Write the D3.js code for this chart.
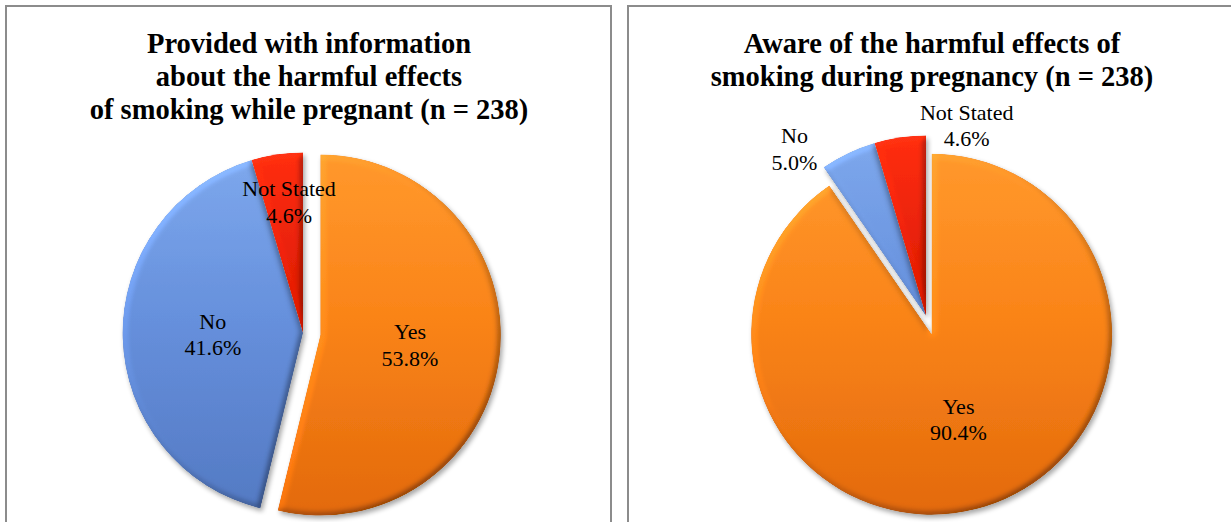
<!DOCTYPE html>
<html>
<head>
<meta charset="utf-8">
<script src="https://cdnjs.cloudflare.com/ajax/libs/d3/7.8.5/d3.min.js"></script>
<style>
  body { margin: 0; background: #fff; font-family: "Liberation Serif", serif; }
  svg { display: block; }
  .panel { fill: #fff; stroke: #8c8c8c; stroke-width: 2; }
  .title { font-weight: bold; font-size: 28.5px; fill: #000; text-anchor: middle; }
  .label { font-size: 22px; fill: #000; text-anchor: middle; }
</style>
</head>
<body>
<div id="chart"></div>
<script>
// Provided with information about harmful effects (n = 238)
var infoCategories = ["Yes", "No", "Not Stated"];
var infoValues = [53.8, 41.6, 4.6];
var infoTitle = ["Provided with information", "about the harmful effects", "of smoking while pregnant (n = 238)"];

// Aware of the harmful effects (n = 238)
var awareCategories = ["Yes", "No", "Not Stated"];
var awareValues = [90.4, 5.0, 4.6];
var awareTitle = ["Aware of the harmful effects of", "smoking during pregnancy (n = 238)"];

var W = 1231, H = 522;

// slice shading: light at top, darker at the bottom
var sliceColors = {
  "Yes":        ["#ff982c", "#f98418", "#e2690c"],
  "No":         ["#7ea8ec", "#6690dc", "#5379c2"],
  "Not Stated": ["#ff2e10", "#da1902", "#b00e00"]
};

var svg = d3.select("#chart").append("svg")
  .attr("width", W)
  .attr("height", H);

var defs = svg.append("defs");

// bevel + soft shadow, roughly like office 3-D pies
var f = defs.append("filter").attr("id", "bevel")
  .attr("x", "-10%").attr("y", "-10%").attr("width", "125%").attr("height", "125%");
f.append("feGaussianBlur").attr("in", "SourceAlpha").attr("stdDeviation", 3).attr("result", "blur");
f.append("feDiffuseLighting").attr("in", "blur").attr("surfaceScale", 4)
  .attr("diffuseConstant", 1).attr("lighting-color", "#fff").attr("result", "diff")
  .append("feDistantLight").attr("azimuth", 225).attr("elevation", 40);
f.append("feComposite").attr("in", "SourceGraphic").attr("in2", "diff")
  .attr("operator", "arithmetic").attr("k1", 0.85).attr("k2", 0.46).attr("k3", 0).attr("k4", 0)
  .attr("result", "lit");
f.append("feComposite").attr("in", "lit").attr("in2", "SourceAlpha").attr("operator", "in").attr("result", "litIn");
f.append("feGaussianBlur").attr("in", "SourceAlpha").attr("stdDeviation", 2.5).attr("result", "sb");
f.append("feOffset").attr("in", "sb").attr("dx", 2).attr("dy", 3).attr("result", "so");
f.append("feComponentTransfer").attr("in", "so").attr("result", "shadow")
  .append("feFuncA").attr("type", "linear").attr("slope", 0.35);
var fm = f.append("feMerge");
fm.append("feMergeNode").attr("in", "shadow");
fm.append("feMergeNode").attr("in", "litIn");

function drawPie(opts) {
  var g = svg.append("g");

  g.append("rect").attr("class", "panel")
    .attr("x", opts.panel[0]).attr("y", opts.panel[1])
    .attr("width", opts.panel[2] - opts.panel[0])
    .attr("height", H + 20);

  var tx = opts.titleX;
  g.append("text").attr("class", "title")
    .selectAll("tspan").data(opts.title).join("tspan")
    .attr("x", tx)
    .attr("y", function(d, i) { return 53 + i * 33; })
    .text(function(d) { return d; });

  var r = opts.radius;
  var data = opts.categories.map(function(c, i) { return { cat: c, value: opts.values[i] }; });
  var pie = d3.pie().sort(null).value(function(d) { return d.value; });
  var arcs = pie(data);
  var arc = d3.arc().innerRadius(0).outerRadius(r);

  var pg = g.append("g").attr("transform", "translate(" + opts.center[0] + "," + opts.center[1] + ")");

  // gradients in pie space
  opts.categories.forEach(function(c) {
    var id = opts.id + "-" + c.replace(/\s/g, "");
    var lg = defs.append("linearGradient").attr("id", id)
      .attr("gradientUnits", "userSpaceOnUse")
      .attr("x1", 0).attr("y1", -r).attr("x2", 0).attr("y2", r);
    lg.append("stop").attr("offset", "0%").attr("stop-color", sliceColors[c][0]);
    lg.append("stop").attr("offset", "45%").attr("stop-color", sliceColors[c][1]);
    lg.append("stop").attr("offset", "100%").attr("stop-color", sliceColors[c][2]);
  });

  function offset(d) {
    var e = opts.explode[d.data.cat] || 0;
    var mid = (d.startAngle + d.endAngle) / 2;
    return [e * Math.sin(mid), -e * Math.cos(mid)];
  }

  pg.selectAll("path.slice").data(arcs).join("path")
    .attr("class", "slice")
    .attr("d", arc)
    .attr("transform", function(d) { var o = offset(d); return "translate(" + o[0] + "," + o[1] + ")"; })
    .attr("fill", function(d) { return "url(#" + opts.id + "-" + d.data.cat.replace(/\s/g, "") + ")"; })
    .attr("filter", "url(#bevel)");

  var fmt = d3.format(".1f");
  pg.selectAll("text.label").data(arcs).join("text")
    .attr("class", "label")
    .each(function(d) {
      var p = opts.labels[d.data.cat];
      var lr = r * p.k;
      var c = d3.arc().innerRadius(lr).outerRadius(lr).centroid(d);
      var o = offset(d);
      var x = c[0] + o[0] + (p.dx || 0);
      var y = c[1] + o[1] + (p.dy || 0) - 6.5;
      var t = d3.select(this);
      t.append("tspan").attr("x", x).attr("y", y).text(d.data.cat);
      t.append("tspan").attr("x", x).attr("y", y + 26.5).text(fmt(d.data.value) + "%");
    });
}

drawPie({
  id: "info",
  panel: [6, 6, 611],
  titleX: 309,
  title: infoTitle,
  categories: infoCategories,
  values: infoValues,
  center: [303, 333],
  radius: 180.5,
  explode: { "Yes": 17.5 },
  labels: {
    "Yes": { k: 0.5 },
    "No": { k: 0.5 },
    "Not Stated": { k: 0.73, dx: 5 }
  }
});

drawPie({
  id: "aware",
  panel: [628, 6, 1250],
  titleX: 932,
  title: awareTitle,
  categories: awareCategories,
  values: awareValues,
  center: [926, 316],
  radius: 180.5,
  explode: { "Yes": 19 },
  labels: {
    "Yes": { k: 0.5 },
    "No": { k: 1.175, dx: -40, dy: 25 },
    "Not Stated": { k: 1.05, dx: 68, dy: -2 }
  }
});
</script>
</body>
</html>
